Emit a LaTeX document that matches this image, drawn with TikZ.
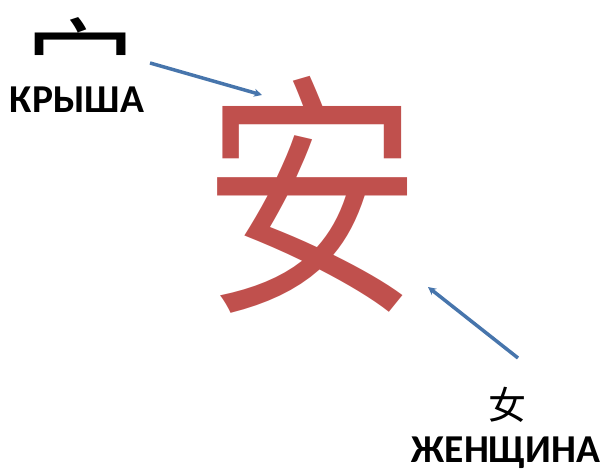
\documentclass[tikz,border=0pt]{standalone}
\usepackage{fontspec}
\setmainfont{Carlito}
\newfontfamily\cjk{Noto Sans CJK SC}
\usetikzlibrary{arrows.meta}
\definecolor{charred}{HTML}{C0504D}
\definecolor{arrowblue}{HTML}{4775AC}
\begin{document}
\begin{tikzpicture}[x=1pt,y=-1pt,
  lbl/.style={font=\bfseries\fontsize{39.5}{39.5}\selectfont, inner sep=0},
  glyph/.style={font=\cjk, inner sep=0},
  conn/.style={arrowblue, line width=3.5pt, -{Stealth[length=8pt,width=8pt]}}]
\useasboundingbox (0,0) rectangle (608,476);
\node[glyph, font=\cjk\fontsize{110}{110}\selectfont, yscale=0.9] (roof) at (80,59) {宀};
\node[lbl] (roofname) at (77,100) {КРЫША};
\node[glyph, font=\cjk\fontsize{258}{258}\selectfont, text=charred, xscale=0.85] (an) at (312,195) {安};
\node[glyph, font=\cjk\fontsize{38}{38}\selectfont] (woman) at (507,405) {女};
\node[lbl] (womanname) at (506,453) {ЖЕНЩИНА};
\coordinate (s1) at (150,63);
\coordinate (e1) at (262,95);
\coordinate (s2) at (518,358);
\coordinate (e2) at (428,287);
\draw[conn] (s1) -- (e1);
\draw[conn] (s2) -- (e2);
\end{tikzpicture}
\end{document}
